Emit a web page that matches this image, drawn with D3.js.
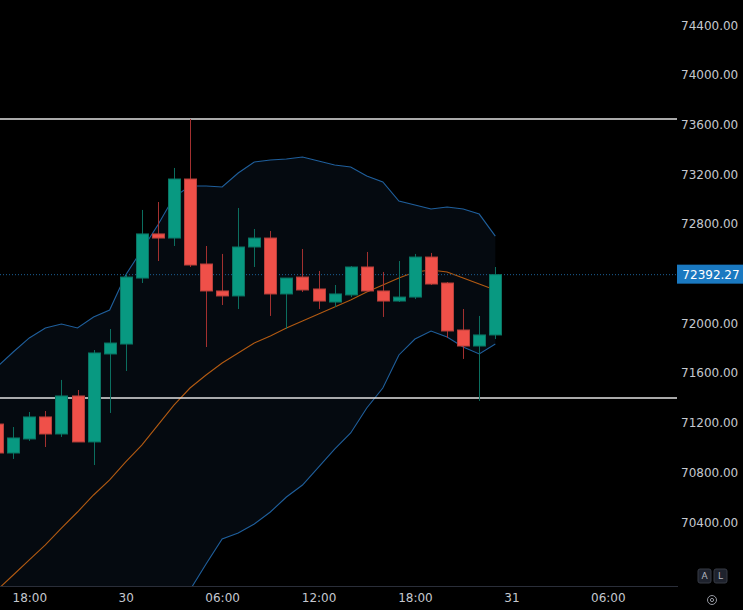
<html lang="en">
<head>
<meta charset="utf-8">
<title>Candles</title>
<style>
  body { margin: 0; background: #000; }
  text { font-family: "DejaVu Sans", sans-serif; }
</style>
</head>
<body>
<div id="chart"></div>
<script src="https://d3js.org/d3.v7.min.js"></script>
<script>

// hourly candles
var times = ["2024-10-29T16:00","2024-10-29T17:00","2024-10-29T18:00","2024-10-29T19:00","2024-10-29T20:00","2024-10-29T21:00","2024-10-29T22:00","2024-10-29T23:00",
  "2024-10-30T00:00","2024-10-30T01:00","2024-10-30T02:00","2024-10-30T03:00","2024-10-30T04:00","2024-10-30T05:00","2024-10-30T06:00","2024-10-30T07:00",
  "2024-10-30T08:00","2024-10-30T09:00","2024-10-30T10:00","2024-10-30T11:00","2024-10-30T12:00","2024-10-30T13:00","2024-10-30T14:00","2024-10-30T15:00",
  "2024-10-30T16:00","2024-10-30T17:00","2024-10-30T18:00","2024-10-30T19:00","2024-10-30T20:00","2024-10-30T21:00","2024-10-30T22:00","2024-10-30T23:00"];
var opens  = [71190,70957,71070,71247,71110,71416,71046,71754,71834,72365,72720,72687,73162,72478,72261,72221,72615,72687,72237,72373,72277,72172,72229,72454,72261,72180,72212,72534,72325,71947,71818,71907];
var highs  = [71223,71166,71287,71295,71545,71464,71786,71955,72398,72913,72977,73251,73645,72623,72559,72929,72760,72744,72365,72599,72422,72309,72462,72575,72414,72502,72559,72567,72333,72116,72060,72454];
var lows   = [70933,70909,71054,71005,71086,71046,70860,71279,71617,72325,72502,72623,72454,71810,72148,72116,72454,72060,71955,72253,72116,72132,72212,72253,72052,72172,72196,72309,71883,71714,71376,71874];
var closes = [70957,71078,71247,71110,71416,71046,71762,71842,72373,72720,72687,73162,72470,72261,72221,72615,72687,72237,72365,72269,72180,72237,72454,72261,72180,72212,72534,72317,71939,71818,71907,72392.27];

// bollinger bands
var bbUpper  = [71649,71770,71883,71963,71995,71963,72052,72108,72390,72591,72792,73017,73106,73106,73098,73210,73299,73315,73323,73339,73307,73275,73259,73186,73138,72985,72953,72921,72937,72921,72880,72703];
var bbMiddle = [69854,69975,70096,70217,70353,70482,70619,70740,70885,71021,71182,71343,71480,71585,71681,71762,71842,71899,71963,72019,72076,72132,72188,72253,72309,72365,72414,72430,72414,72365,72317,72269];
var bbLower  = [68060,68180,68309,68470,68712,69001,69186,69372,69380,69452,69573,69669,69854,70064,70265,70313,70386,70482,70603,70699,70844,70989,71118,71319,71480,71746,71874,71939,71891,71810,71754,71834];

var priceTicks = [70400,70800,71200,71600,72000,72800,73200,73600,74000,74400];
var timeTicks = ["2024-10-29T18:00","2024-10-30T00:00","2024-10-30T06:00","2024-10-30T12:00","2024-10-30T18:00","2024-10-31T00:00","2024-10-31T06:00"];
var levels = [73645, 71400];
var lastPrice = 72392.27;

var width = 743, height = 610;
var paneW = 677, paneH = 586;

var parse = d3.timeParse("%Y-%m-%dT%H:%M");

var svg = d3.select("#chart").append("svg")
  .attr("width", width)
  .attr("height", height)
  .style("display", "block");

svg.append("rect").attr("width", width).attr("height", height).attr("fill", "#000");

var x = d3.scaleTime()
  .domain([parse("2024-10-29T18:00"), parse("2024-10-31T06:00")])
  .range([29.3, 607.8]);

var y = d3.scaleLinear()
  .domain([70000, 74800])
  .range([224 + 2800 * 0.12425, 224 - 2000 * 0.12425]);

var candles = times.map(function(t, i) {
  return { t: parse(t), o: opens[i], h: highs[i], l: lows[i], c: closes[i],
           up: bbUpper[i], mid: bbMiddle[i], lo: bbLower[i] };
});

svg.append("clipPath").attr("id", "pane")
  .append("rect").attr("width", paneW).attr("height", paneH);

var g = svg.append("g").attr("clip-path", "url(#pane)");

// band fill + lines
g.append("path")
  .datum(candles)
  .attr("fill", "#050a10")
  .attr("d", d3.area()
    .x(function(d) { return x(d.t); })
    .y0(function(d) { return y(d.lo); })
    .y1(function(d) { return y(d.up); }));

var bandLine = function(key) {
  return d3.line().x(function(d) { return x(d.t); }).y(function(d) { return y(d[key]); });
};

g.append("path").datum(candles).attr("fill", "none").attr("stroke", "#1f5f9c").attr("stroke-width", 1.1).attr("d", bandLine("up"));
g.append("path").datum(candles).attr("fill", "none").attr("stroke", "#1f5f9c").attr("stroke-width", 1.1).attr("d", bandLine("lo"));
g.append("path").datum(candles).attr("fill", "none").attr("stroke", "#b25a12").attr("stroke-width", 1.1).attr("d", bandLine("mid"));

// horizontal levels
g.selectAll(".level").data(levels).enter().append("line")
  .attr("x1", 0).attr("x2", paneW)
  .attr("y1", function(d) { return y(d); })
  .attr("y2", function(d) { return y(d); })
  .attr("stroke", "#e2e2e2")
  .attr("stroke-width", 1.6);

// last price dotted line
g.append("line")
  .attr("x1", 0).attr("x2", paneW)
  .attr("y1", y(lastPrice)).attr("y2", y(lastPrice))
  .attr("stroke", "#1b5f95")
  .attr("stroke-width", 1)
  .attr("stroke-dasharray", "1,2");

// candles
var bodyW = 12;
var cg = g.selectAll(".candle").data(candles).enter().append("g");

cg.append("line")
  .attr("x1", function(d) { return Math.round(x(d.t)) + 0.5; })
  .attr("x2", function(d) { return Math.round(x(d.t)) + 0.5; })
  .attr("y1", function(d) { return y(d.h); })
  .attr("y2", function(d) { return y(d.l); })
  .attr("stroke", function(d) { return d.c >= d.o ? "#0b6e5f" : "#a3302f"; })
  .attr("stroke-width", 1);

cg.append("rect")
  .attr("x", function(d) { return Math.round(x(d.t)) - bodyW / 2 + 0.5; })
  .attr("y", function(d) { return y(Math.max(d.o, d.c)); })
  .attr("width", bodyW)
  .attr("height", function(d) { return Math.max(1, Math.abs(y(d.o) - y(d.c))); })
  .attr("fill", function(d) { return d.c >= d.o ? "#089981" : "#ef5049"; })
  .attr("stroke", function(d) { return d.c >= d.o ? "#0a7564" : "#b8403b"; })
  .attr("stroke-width", 1);

// bottom border
svg.append("line")
  .attr("x1", 0).attr("x2", paneW + 1)
  .attr("y1", paneH + 0.5).attr("y2", paneH + 0.5)
  .attr("stroke", "#2a2e39");

// price axis
var yAxis = d3.axisRight(y)
  .tickValues(priceTicks)
  .tickSize(0)
  .tickPadding(4)
  .tickFormat(d3.format(".2f"));

var ya = svg.append("g")
  .attr("transform", "translate(" + paneW + ",0)")
  .call(yAxis);
ya.select(".domain").remove();
ya.selectAll("text").attr("fill", "#c5c8cf").attr("font-size", 12);

// last price label
svg.append("rect")
  .attr("x", paneW).attr("y", y(lastPrice) - 10)
  .attr("width", width - paneW).attr("height", 19)
  .attr("fill", "#1a79c1");
svg.append("text")
  .attr("x", 711).attr("y", y(lastPrice))
  .attr("dy", "0.35em")
  .attr("text-anchor", "middle")
  .attr("fill", "#fff")
  .attr("font-size", 12)
  .text(d3.format(".2f")(lastPrice));

// time axis
var fmtTime = function(d) {
  return d.getHours() === 0 ? d3.timeFormat("%-d")(d) : d3.timeFormat("%H:%M")(d);
};
var xAxis = d3.axisBottom(x)
  .tickValues(timeTicks.map(parse))
  .tickSize(0)
  .tickPadding(7)
  .tickFormat(fmtTime);

var xa = svg.append("g")
  .attr("transform", "translate(0," + paneH + ")")
  .call(xAxis);
xa.select(".domain").remove();
xa.selectAll("text").attr("fill", "#c5c8cf").attr("font-size", 12);

// A / L buttons and settings icon
var btns = ["A", "L"];
svg.selectAll(".btn").data(btns).enter().append("rect")
  .attr("x", function(d, i) { return 698 + i * 16; })
  .attr("y", 569).attr("width", 13).attr("height", 14).attr("rx", 2)
  .attr("fill", "#1e222d").attr("stroke", "#363a45");
svg.selectAll(".btnText").data(btns).enter().append("text")
  .attr("x", function(d, i) { return 704.5 + i * 16; })
  .attr("y", 576).attr("dy", "0.35em")
  .attr("text-anchor", "middle")
  .attr("fill", "#b2b5be").attr("font-size", 9)
  .text(function(d) { return d; });

svg.append("circle").attr("cx", 712).attr("cy", 600).attr("r", 4.5)
  .attr("fill", "none").attr("stroke", "#9598a1").attr("stroke-width", 1);
svg.append("circle").attr("cx", 712).attr("cy", 600).attr("r", 1.6)
  .attr("fill", "none").attr("stroke", "#9598a1").attr("stroke-width", 1);

</script>
</body>
</html>
